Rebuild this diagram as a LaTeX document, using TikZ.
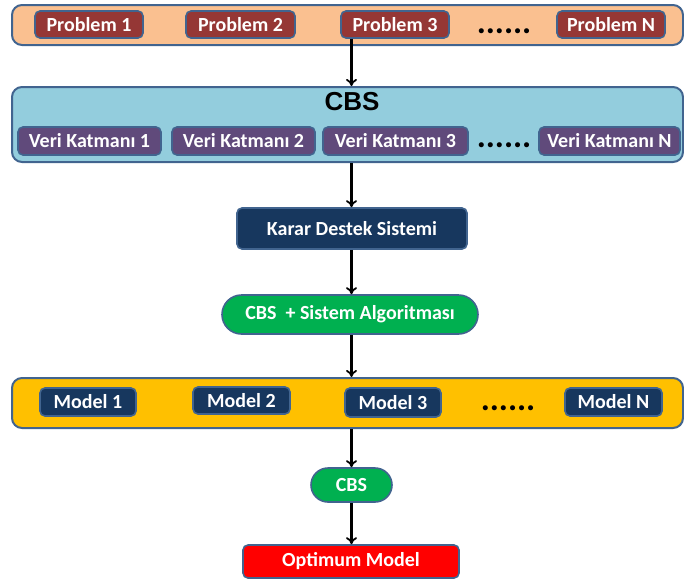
\documentclass[tikz,border=0pt]{standalone}
\usepackage{fontspec}
\setmainfont{Carlito}
\newfontfamily\headfont{Liberation Sans}
\usetikzlibrary{arrows.meta}

\definecolor{bord}{HTML}{41648F}
\definecolor{peach}{HTML}{FAC090}
\definecolor{probred}{HTML}{953735}
\definecolor{skyband}{HTML}{93CDDD}
\definecolor{violet}{HTML}{604A7B}
\definecolor{navy}{HTML}{17375E}
\definecolor{leaf}{HTML}{00B050}
\definecolor{amber}{HTML}{FFC000}
\definecolor{alarm}{HTML}{FF0000}

\tikzset{
  band/.style={draw=bord, line width=2pt, rounded corners=10pt, inner sep=0pt},
  tag/.style={draw=bord, line width=1.6pt, rounded corners=5pt, inner sep=0pt,
    text=white, font=\fontsize{20}{22}\selectfont\bfseries},
  pill/.style={tag, rounded corners=#1},
  dots/.style={anchor=base, inner sep=0pt, font=\fontsize{34}{34}\selectfont\bfseries},
  flow/.style={draw=black, line width=2.2pt, -{To[length=7pt,width=11pt,line width=1.8pt]}},
}

\begin{document}
\begin{tikzpicture}[x=1pt, y=-1pt]
\useasboundingbox (0,0) rectangle (684,581);

% problem row
\node[band, fill=peach, minimum width=671pt, minimum height=40pt] (probband) at (347.5,25) {};
\node[tag, fill=probred, minimum width=108pt, minimum height=27pt] (p1) at (89,24.5) {Problem 1};
\node[tag, fill=probred, minimum width=109pt, minimum height=27pt] (p2) at (240.5,24.5) {Problem 2};
\node[tag, fill=probred, minimum width=108pt, minimum height=27pt] (p3) at (395,24.5) {Problem 3};
\node[dots] (pdots) at (504,33) {......};
\node[tag, fill=probred, minimum width=108pt, minimum height=27pt] (pn) at (611,24.5) {Problem N};

% CBS data layers
\node[band, fill=skyband, minimum width=671pt, minimum height=75pt] (cbsband) at (347.5,124.5) {};
\node[inner sep=0pt, font=\headfont\fontsize{26}{28}\selectfont\bfseries] (cbstitle) at (352,102) {CBS};
\node[tag, fill=violet, minimum width=143pt, minimum height=28pt] (v1) at (89.5,141) {Veri Katmanı 1};
\node[tag, fill=violet, minimum width=143pt, minimum height=28pt] (v2) at (243.5,141) {Veri Katmanı 2};
\node[tag, fill=violet, minimum width=145pt, minimum height=28pt] (v3) at (395.5,141) {Veri Katmanı 3};
\node[dots] (vdots) at (504,147) {......};
\node[tag, fill=violet, minimum width=141pt, minimum height=28pt] (vn) at (609.5,141) {Veri Katmanı N};

% decision chain
\node[tag, fill=navy, minimum width=230pt, minimum height=41pt] (kds) at (352,228.5) {Karar Destek Sistemi};
\node[pill=19.5pt, fill=leaf, minimum width=256pt, minimum height=39pt] (algo) at (350,314.5) {CBS \ + Sistem Algoritması};

% model row
\node[band, fill=amber, minimum width=671pt, minimum height=50pt] (modband) at (347.5,403) {};
\node[tag, fill=navy, minimum width=96pt, minimum height=28pt] (m1) at (88,402) {Model 1};
\node[tag, fill=navy, minimum width=97pt, minimum height=27pt] (m2) at (241.5,400.5) {Model 2};
\node[tag, fill=navy, minimum width=96pt, minimum height=29pt] (m3) at (393,402.5) {Model 3};
\node[dots] (mdots) at (508,410) {......};
\node[tag, fill=navy, minimum width=97pt, minimum height=28pt] (mn) at (613.5,402) {Model N};

% final selection
\node[pill=17pt, fill=leaf, minimum width=81pt, minimum height=34pt] (cbs) at (351.5,485) {CBS};
\node[tag, fill=alarm, minimum width=216pt, minimum height=33pt] (opt) at (351,561.5) {Optimum Model};

% connectors
\draw[flow] (p3.south -| cbs.center) -- (cbsband.north -| cbs.center);
\draw[flow] (cbsband.south -| cbs.center) -- (kds.north -| cbs.center);
\draw[flow] (kds.south -| cbs.center) -- (algo.north -| cbs.center);
\draw[flow] (algo.south -| cbs.center) -- (modband.north -| cbs.center);
\draw[flow] (modband.south -| cbs.center) -- (cbs.north);
\draw[flow] (cbs.south) -- (opt.north -| cbs.center);
\end{tikzpicture}
\end{document}
